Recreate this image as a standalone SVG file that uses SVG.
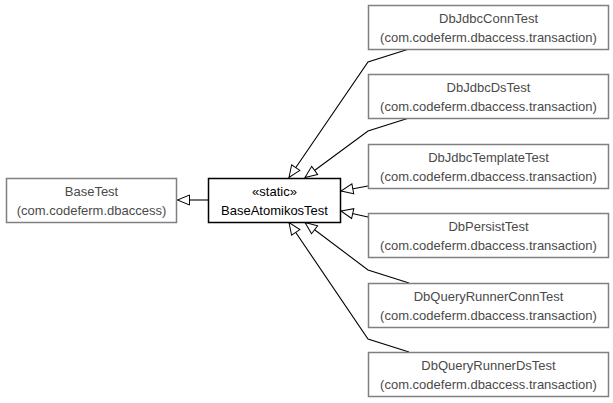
<svg xmlns="http://www.w3.org/2000/svg" width="613" height="403" viewBox="0 0 613 403">
<style>
.box{fill:#fff;stroke:#808080;stroke-width:1.5}
.focus{fill:#fff;stroke:#000;stroke-width:1.5}
.t{font-family:"Liberation Sans",Arial,sans-serif;font-size:13px;fill:#4a4a4a;text-anchor:middle}
.tf{font-family:"Liberation Sans",Arial,sans-serif;font-size:13px;fill:#000;text-anchor:middle}
.e{fill:none;stroke:#000;stroke-width:1.1;marker-end:url(#tri)}
</style>
<defs>
<marker id="tri" markerUnits="userSpaceOnUse" markerWidth="16" markerHeight="14" refX="13" refY="6" orient="auto" viewBox="0 0 16 12">
<path d="M1,1 L13,6 L1,11 Z" fill="#fff" stroke="#000" stroke-width="1"/>
</marker>
</defs>
<rect width="613" height="403" fill="#fff"/>
<g id="connectors">
<polyline class="e" points="208,200 177.5,200"/>
<polyline class="e" points="409,49 368,62 289,177.5"/>
<polyline class="e" points="409,118 368,131 305,177.5"/>
<polyline class="e" points="368,186 341,191"/>
<polyline class="e" points="368,217 341,211"/>
<polyline class="e" points="409,283 368,270 305,222.5"/>
<polyline class="e" points="409,352 368,339 289,222.5"/>
</g>
<g id="BaseTest">
<rect class="box" x="6.5" y="178.5" width="170" height="44"/>
<text class="t" x="91.5" y="195.5">BaseTest</text>
<text class="t" x="91.5" y="215">(com.codeferm.dbaccess)</text>
</g>
<g id="BaseAtomikosTest">
<rect class="focus" x="208.5" y="178.5" width="132" height="44"/>
<text class="tf" x="274.5" y="195.5">«static»</text>
<text class="tf" x="274.5" y="215">BaseAtomikosTest</text>
</g>
<g id="DbJdbcConnTest">
<rect class="box" x="368.5" y="5.5" width="240" height="44"/>
<text class="t" x="488.5" y="22.5">DbJdbcConnTest</text>
<text class="t" x="488.5" y="42">(com.codeferm.dbaccess.transaction)</text>
</g>
<g id="DbJdbcDsTest">
<rect class="box" x="368.5" y="74.5" width="240" height="44"/>
<text class="t" x="488.5" y="91.5">DbJdbcDsTest</text>
<text class="t" x="488.5" y="111">(com.codeferm.dbaccess.transaction)</text>
</g>
<g id="DbJdbcTemplateTest">
<rect class="box" x="368.5" y="144.5" width="240" height="44"/>
<text class="t" x="488.5" y="161.5">DbJdbcTemplateTest</text>
<text class="t" x="488.5" y="181">(com.codeferm.dbaccess.transaction)</text>
</g>
<g id="DbPersistTest">
<rect class="box" x="368.5" y="213.5" width="240" height="44"/>
<text class="t" x="488.5" y="230.5">DbPersistTest</text>
<text class="t" x="488.5" y="250">(com.codeferm.dbaccess.transaction)</text>
</g>
<g id="DbQueryRunnerConnTest">
<rect class="box" x="368.5" y="283.5" width="240" height="44"/>
<text class="t" x="488.5" y="300.5">DbQueryRunnerConnTest</text>
<text class="t" x="488.5" y="320">(com.codeferm.dbaccess.transaction)</text>
</g>
<g id="DbQueryRunnerDsTest">
<rect class="box" x="368.5" y="352.5" width="240" height="44"/>
<text class="t" x="488.5" y="369.5">DbQueryRunnerDsTest</text>
<text class="t" x="488.5" y="389">(com.codeferm.dbaccess.transaction)</text>
</g>
</svg>
